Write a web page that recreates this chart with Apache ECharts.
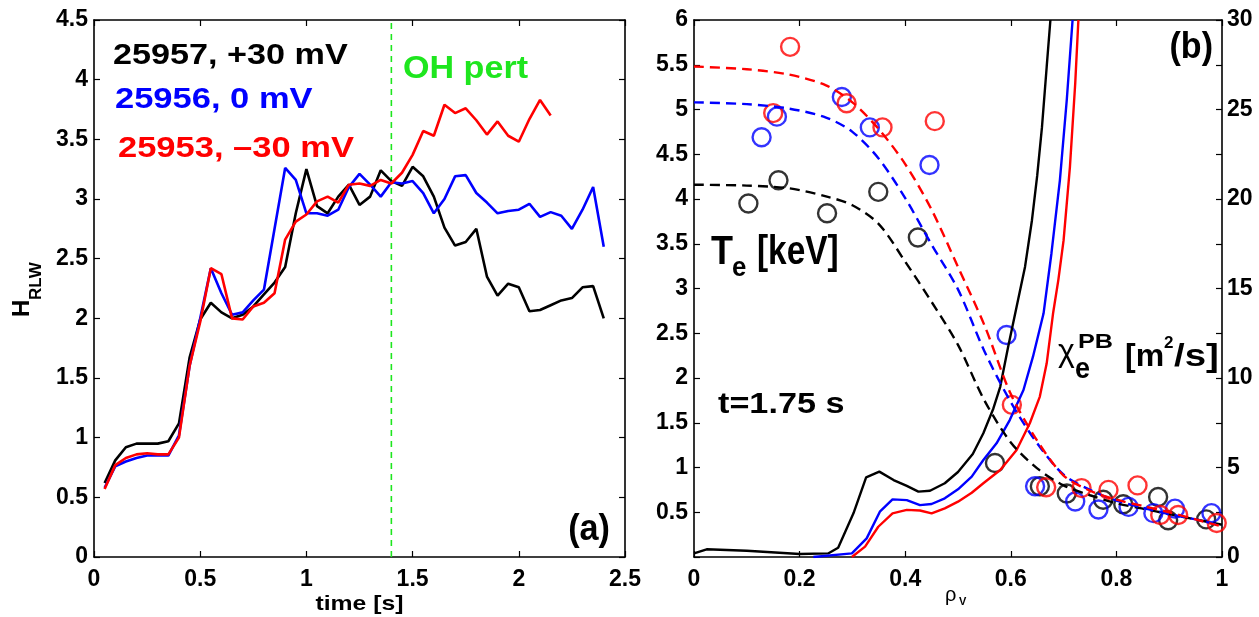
<!DOCTYPE html>
<html>
<head>
<meta charset="utf-8">
<script src="https://cdn.jsdelivr.net/npm/echarts@6/dist/echarts.min.js"></script>
<style>
html,body{margin:0;padding:0;background:#fff;}
#chart{width:1259px;height:617px;}
</style>
</head>
<body>
<div id="chart"></div>
<script>
// ---------- Panel (a): H_RLW vs time ----------
const time = [0.05,0.10,0.15,0.20,0.25,0.30,0.35,0.40,0.45,0.50,0.55,0.60,0.65,0.70,0.75,0.80,0.85,0.90,0.95,1.00,
              1.05,1.10,1.15,1.20,1.25,1.30,1.35,1.40,1.45,1.50,1.55,1.60,1.65,1.70,1.75,1.80,1.85,1.90,1.95,2.00,
              2.05,2.10,2.15,2.20,2.25,2.30,2.35,2.40];
const h25957 = [0.62,0.81,0.92,0.95,0.95,0.95,0.97,1.12,1.67,1.99,2.13,2.05,2.00,2.03,2.10,2.20,2.30,2.43,2.88,3.25,
                2.94,2.88,3.02,3.12,2.95,3.02,3.24,3.15,3.11,3.27,3.19,3.02,2.76,2.61,2.64,2.75,2.35,2.19,2.29,2.26,
                2.06,2.07,2.11,2.15,2.17,2.26,2.27,2.00];
const h25956 = [0.58,0.76,0.80,0.83,0.85,0.85,0.85,1.02,1.60,2.00,2.42,2.21,2.03,2.05,2.15,2.24,2.75,3.26,3.16,2.88,
                2.88,2.86,2.91,3.10,3.21,3.12,3.02,3.14,3.13,3.15,3.05,2.88,3.00,3.19,3.20,3.05,2.97,2.88,2.90,2.91,
                2.96,2.85,2.89,2.86,2.75,2.91,3.10,2.60];
const h25953 = [0.57,0.77,0.83,0.86,0.87,0.86,0.86,1.00,1.60,1.97,2.42,2.37,2.00,1.99,2.10,2.13,2.21,2.66,2.81,2.87,
                2.98,3.02,2.97,3.12,3.13,3.11,3.16,3.13,3.22,3.37,3.57,3.53,3.79,3.72,3.76,3.66,3.54,3.65,3.53,3.48,
                3.67,3.83,3.70];
const ohPertTime = 1.4;
const legendLabels = ['25957, +30 mV', '25956, 0 mV', '25953, \u201330 mV'];

// ---------- Panel (b): profiles vs rho_V ----------
const fitRho     = [0,0.1,0.18,0.25,0.3,0.35,0.4,0.45,0.5,0.55,0.6,0.65,0.7,0.75,0.8,0.85,0.9,0.95,1.0];
const teFitBlack = [4.16,4.15,4.12,4.03,3.93,3.72,3.30,2.85,2.37,1.75,1.28,0.99,0.80,0.69,0.60,0.54,0.48,0.42,0.36];
const teFitBlue  = [5.08,5.06,5.01,4.91,4.75,4.45,4.01,3.49,2.99,2.30,1.73,1.27,0.92,0.75,0.63,0.55,0.48,0.42,0.35];
const teFitRed   = [5.48,5.45,5.39,5.27,5.08,4.78,4.39,3.88,3.24,2.59,1.82,1.30,0.91,0.74,0.64,0.57,0.50,0.42,0.34];

const teBlack = [[0.103,3.95],[0.16,4.21],[0.252,3.84],[0.349,4.08],[0.424,3.57],[0.57,1.05],[0.655,0.79],
                 [0.706,0.71],[0.775,0.64],[0.813,0.59],[0.879,0.67],[0.898,0.41],[0.97,0.42]];
const teBlue  = [[0.128,4.69],[0.157,4.92],[0.28,5.14],[0.333,4.80],[0.446,4.38],[0.592,2.48],[0.646,0.79],
                 [0.722,0.62],[0.766,0.53],[0.823,0.56],[0.87,0.49],[0.911,0.54],[0.98,0.49]];
const teRed   = [[0.15,4.96],[0.182,5.70],[0.289,5.07],[0.357,4.80],[0.456,4.87],[0.602,1.70],[0.667,0.78],
                 [0.734,0.77],[0.785,0.75],[0.84,0.80],[0.883,0.47],[0.917,0.47],[0.99,0.38]];

const chiBlack = [[0,0.2],[0.024,0.43],[0.1,0.35],[0.2,0.17],[0.254,0.2],[0.273,0.52],[0.302,2.44],[0.326,4.45],
                  [0.351,4.77],[0.378,4.3],[0.403,3.97],[0.425,3.65],[0.447,3.7],[0.475,4.12],[0.5,4.75],[0.528,5.75],
                  [0.548,6.91],[0.567,8.3],[0.58,9.51],[0.595,11.75],[0.611,13.98],[0.627,16.22],[0.64,18.8],
                  [0.65,21.3],[0.659,24.0],[0.668,27.39],[0.675,30]];
const chiBlue  = [[0.226,0],[0.299,0.2],[0.327,1.04],[0.352,2.53],[0.376,3.22],[0.403,3.18],[0.428,2.9],
                  [0.45,2.96],[0.475,3.28],[0.5,3.78],[0.526,4.49],[0.548,5.42],[0.573,6.35],[0.598,7.65],
                  [0.624,9.33],[0.642,11.19],[0.662,13.6],[0.677,16.97],[0.693,21.06],[0.706,25.53],[0.717,30]];
const chiRed   = [[0.299,0],[0.324,0.58],[0.349,1.69],[0.376,2.44],[0.403,2.63],[0.428,2.6],[0.45,2.44],
                  [0.475,2.72],[0.5,3.09],[0.526,3.59],[0.548,4.12],[0.58,4.86],[0.611,5.98],[0.636,7.47],
                  [0.655,8.96],[0.668,10.82],[0.68,13.6],[0.69,15.47],[0.7,17.7],[0.712,21.8],[0.722,26.45],[0.728,30]];

const BLACK = '#000000', BLUE = '#0000ff', RED = '#ff0000', GREEN = '#1ee61e';
const FONT = '"Liberation Sans", Arial, Helvetica, sans-serif';

function axisBase(extra) {
  return Object.assign({
    type: 'value',
    axisLine: {show: true, onZero: false, lineStyle: {color: '#000', width: 1.6}},
    axisTick: {show: true, inside: true, length: 6, lineStyle: {color: '#000', width: 1.2}},
    splitLine: {show: false},
    axisLabel: {color: '#000', fontFamily: FONT, fontWeight: 'bold', fontSize: 23, hideOverlap: false,
                showMinLabel: true, showMaxLabel: true},
  }, extra);
}
function noLabel(extra) {
  const a = axisBase(extra);
  a.axisLabel = {show: false};
  return a;
}
function txt(x, y, text, size, o) {
  o = o || {};
  return {
    type: 'text', x: x, y: y, z: 100,
    scaleX: o.sx || 1, rotation: o.rot || 0,
    style: {
      text: text, fill: o.color || '#000',
      font: (o.weight || 'bold') + ' ' + size + 'px ' + FONT,
      align: o.align || 'left', textAlign: o.align || 'left',
      verticalAlign: 'middle', textVerticalAlign: 'middle'
    }
  };
}
const pairs = (xs, ys) => ys.map((v, i) => [xs[i], v]);

const chart = echarts.init(document.getElementById('chart'), null, {renderer: 'canvas'});
chart.setOption({
  animation: false,
  backgroundColor: '#ffffff',
  grid: [
    {left: 94, top: 20, width: 531, height: 537},
    {left: 694, top: 20, width: 528, height: 537}
  ],
  xAxis: [
    axisBase({gridIndex: 0, position: 'bottom', min: 0, max: 2.5, interval: 0.5,
              axisLabel: Object.assign(axisBase().axisLabel, {margin: 11})}),
    noLabel({gridIndex: 0, position: 'top', min: 0, max: 2.5, interval: 0.5}),
    axisBase({gridIndex: 1, position: 'bottom', min: 0, max: 1, interval: 0.2,
              axisLabel: Object.assign(axisBase().axisLabel, {margin: 11})}),
    noLabel({gridIndex: 1, position: 'top', min: 0, max: 1, interval: 0.2})
  ],
  yAxis: [
    axisBase({gridIndex: 0, position: 'left', min: 0, max: 4.5, interval: 0.5,
              axisLabel: Object.assign(axisBase().axisLabel, {margin: 6})}),
    noLabel({gridIndex: 0, position: 'right', min: 0, max: 4.5, interval: 0.5}),
    axisBase({gridIndex: 1, position: 'left', min: 0, max: 6, interval: 0.5,
              axisLabel: Object.assign(axisBase().axisLabel, {margin: 6,
                formatter: v => (v === 0 ? '' : String(v))})}),
    axisBase({gridIndex: 1, position: 'right', min: 0, max: 30, interval: 2.5,
              axisLabel: Object.assign(axisBase().axisLabel, {margin: 5,
                formatter: v => (v % 5 === 0 ? String(v) : '')})})
  ],
  series: [
    {type: 'line', xAxisIndex: 0, yAxisIndex: 0, data: [[ohPertTime, 0], [ohPertTime, 4.5]],
     symbol: 'none', lineStyle: {color: GREEN, width: 1.6, type: [6, 5]}, z: 1},
    {type: 'line', xAxisIndex: 0, yAxisIndex: 0, data: pairs(time, h25957), symbol: 'none',
     lineStyle: {color: BLACK, width: 2.6}},
    {type: 'line', xAxisIndex: 0, yAxisIndex: 0, data: pairs(time, h25956), symbol: 'none',
     lineStyle: {color: BLUE, width: 2.6}},
    {type: 'line', xAxisIndex: 0, yAxisIndex: 0, data: pairs(time, h25953), symbol: 'none',
     lineStyle: {color: RED, width: 2.6}},

    {type: 'line', xAxisIndex: 2, yAxisIndex: 3, data: chiBlack, symbol: 'none', clip: true,
     lineStyle: {color: BLACK, width: 2.4}},
    {type: 'line', xAxisIndex: 2, yAxisIndex: 3, data: chiBlue, symbol: 'none', clip: true,
     lineStyle: {color: BLUE, width: 2.4}},
    {type: 'line', xAxisIndex: 2, yAxisIndex: 3, data: chiRed, symbol: 'none', clip: true,
     lineStyle: {color: RED, width: 2.4}},

    {type: 'line', xAxisIndex: 2, yAxisIndex: 2, data: pairs(fitRho, teFitBlack), symbol: 'none', smooth: 0.3,
     lineStyle: {color: BLACK, width: 2.4, type: [10, 6]}},
    {type: 'line', xAxisIndex: 2, yAxisIndex: 2, data: pairs(fitRho, teFitBlue), symbol: 'none', smooth: 0.3,
     lineStyle: {color: BLUE, width: 2.4, type: [10, 6]}},
    {type: 'line', xAxisIndex: 2, yAxisIndex: 2, data: pairs(fitRho, teFitRed), symbol: 'none', smooth: 0.3,
     lineStyle: {color: RED, width: 2.4, type: [10, 6]}},

    {type: 'scatter', xAxisIndex: 2, yAxisIndex: 2, data: teBlack, symbol: 'circle', symbolSize: 18,
     itemStyle: {color: 'rgba(0,0,0,0)', borderColor: BLACK, borderWidth: 2.4}},
    {type: 'scatter', xAxisIndex: 2, yAxisIndex: 2, data: teBlue, symbol: 'circle', symbolSize: 18,
     itemStyle: {color: 'rgba(0,0,0,0)', borderColor: BLUE, borderWidth: 2.4}},
    {type: 'scatter', xAxisIndex: 2, yAxisIndex: 2, data: teRed, symbol: 'circle', symbolSize: 18,
     itemStyle: {color: 'rgba(0,0,0,0)', borderColor: RED, borderWidth: 2.4}}
  ],
  graphic: [
    txt(113, 56, legendLabels[0], 30, {sx: 1.14, color: BLACK}),
    txt(115, 99.5, legendLabels[1], 30, {sx: 1.15, color: BLUE}),
    txt(118, 149, legendLabels[2], 30, {sx: 1.15, color: RED}),
    txt(403, 69.5, 'OH pert', 31, {sx: 1.10, color: GREEN}),
    txt(610, 530, '(a)', 36, {sx: 0.95, align: 'right'}),
    txt(1213, 47.5, '(b)', 37, {sx: 0.92, align: 'right'}),
    txt(359.5, 604, 'time [s]', 21, {sx: 1.18, align: 'center'}),
    txt(22, 317, 'H', 24, {rot: Math.PI / 2}),
    txt(36, 300, 'RLW', 17, {rot: Math.PI / 2}),
    txt(945, 595, '\u03c1', 20, {weight: 'normal'}),
    txt(959, 601.5, 'V', 11),
    txt(711, 253, 'T', 40, {sx: 0.9}),
    txt(732, 268, 'e', 28, {sx: 0.92}),
    txt(757, 253, '[keV]', 40, {sx: 0.835}),
    txt(718, 404.5, 't=1.75 s', 30, {sx: 1.14}),
    txt(1058, 352, '\u03c7', 32, {weight: 'normal'}),
    txt(1075, 370, 'e', 30, {sx: 0.9}),
    txt(1078, 342, 'PB', 21, {sx: 1.2}),
    txt(1125, 357, '[m', 32),
    txt(1164, 343, '2', 17),
    txt(1174, 357, '/s]', 32, {sx: 1.2})
  ]
});
</script>
</body>
</html>
